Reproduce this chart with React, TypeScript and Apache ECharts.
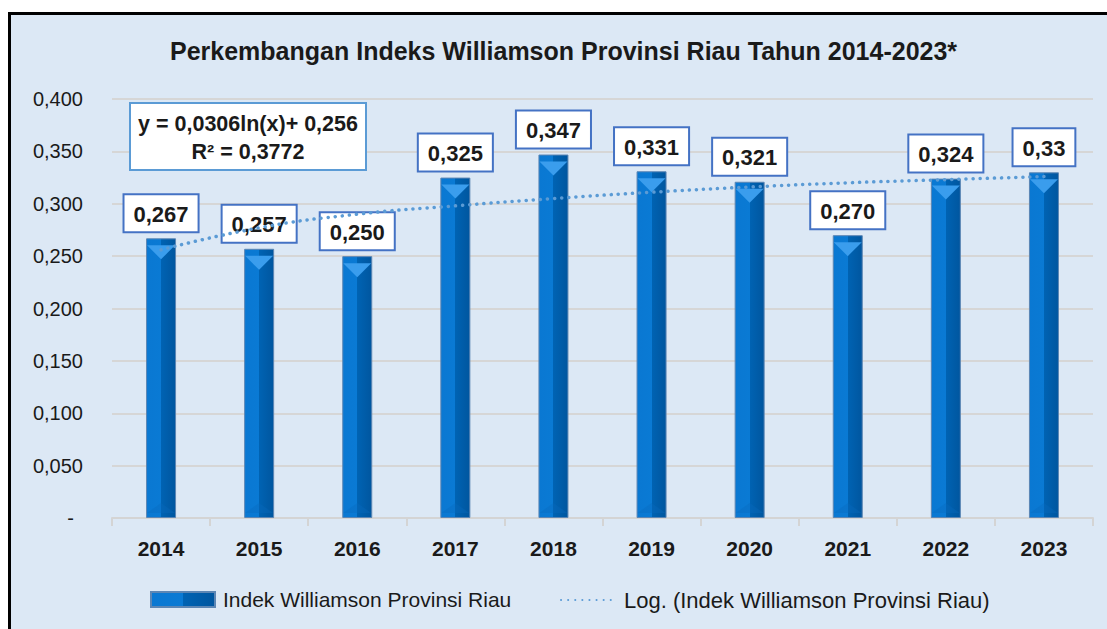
import React, { useEffect, useRef } from "react";
import * as echarts from "echarts";

const years = ["2014", "2015", "2016", "2017", "2018", "2019", "2020", "2021", "2022", "2023"];
const williamson = [0.267, 0.257, 0.25, 0.325, 0.347, 0.331, 0.321, 0.27, 0.324, 0.33];
const valueLabels = ["0,267", "0,257", "0,250", "0,325", "0,347", "0,331", "0,321", "0,270", "0,324", "0,33"];
// logarithmic trend line values
const trend = [0.256, 0.277, 0.29, 0.298, 0.305, 0.311, 0.316, 0.32, 0.323, 0.326];
const yTicks = { min: 0, max: 0.4, interval: 0.05 };
const titleText = "Perkembangan Indeks Williamson Provinsi Riau Tahun 2014-2023*";
const barName = "Indek Williamson Provinsi Riau";
const trendName = "Log. (Indek Williamson Provinsi Riau)";
const eqLine1 = "y = 0,0306ln(x)+ 0,256";
const eqLine2 = "R² = 0,3772";

const FONT = "'Liberation Sans', Arial, sans-serif";

export default function App() {
  const ref = useRef<HTMLDivElement>(null);
  useEffect(() => {
    if (!ref.current) return;
    const chart = echarts.init(ref.current, null, { renderer: "svg" });
    const barGrad = new echarts.graphic.LinearGradient(0, 0, 1, 0, [
      { offset: 0, color: "#0a78d2" },
      { offset: 0.5, color: "#0a7ad4" },
      { offset: 0.5, color: "#0063b3" },
      { offset: 1, color: "#00569f" },
    ]);
    chart.setOption({
      animation: false,
      backgroundColor: "#ffffff",
      title: {
        text: titleText,
        left: 165,
        top: 33,
        textStyle: { fontFamily: FONT, fontWeight: "bold", fontSize: 25, color: "#1a1a1a" },
      },
      graphic: [
        {
          type: "rect",
          z: -10,
          shape: { x: 9.5, y: 13.5, width: 1130, height: 650 },
          style: { fill: "#dce8f5", stroke: "#000000", lineWidth: 3 },
        },
        {
          type: "rect",
          z: 10,
          shape: { x: 130, y: 103, width: 236, height: 67 },
          style: { fill: "#ffffff", stroke: "#5b9bd5", lineWidth: 2 },
        },
        {
          type: "text",
          z: 11,
          x: 248,
          y: 124,
          style: {
            text: eqLine1,
            fontFamily: FONT,
            fontWeight: "bold",
            fontSize: 21.5,
            fill: "#1a1a1a",
            align: "center",
            verticalAlign: "middle",
          },
        },
        {
          type: "text",
          z: 11,
          x: 248,
          y: 152,
          style: {
            text: eqLine2,
            fontFamily: FONT,
            fontWeight: "bold",
            fontSize: 21.5,
            fill: "#1a1a1a",
            align: "center",
            verticalAlign: "middle",
          },
        },
      ],
      legend: [
        {
          data: [{ name: barName, icon: "rect" }],
          left: 150,
          top: 589,
          padding: 0,
          itemWidth: 64,
          itemHeight: 15,
          textStyle: { fontFamily: FONT, fontSize: 21, color: "#1a1a1a", padding: [0, 0, 0, 3] },
        },
        {
          data: [{ name: trendName }],
          left: 560,
          top: 589,
          padding: 0,
          itemWidth: 52,
          itemHeight: 15,
          itemStyle: { opacity: 0 },
          textStyle: { fontFamily: FONT, fontSize: 22, color: "#1a1a1a", padding: [0, 0, 0, 6] },
        },
      ],
      grid: { left: 112, right: 14, top: 99, bottom: 111, containLabel: false },
      xAxis: {
        type: "category",
        data: years,
        boundaryGap: true,
        axisLine: { lineStyle: { color: "#d4d4d4", width: 2 } },
        axisTick: { show: true, length: 8, lineStyle: { color: "#d4d4d4", width: 2 } },
        axisLabel: {
          margin: 20,
          fontFamily: FONT,
          fontWeight: "bold",
          fontSize: 21,
          color: "#1a1a1a",
        },
      },
      yAxis: {
        type: "value",
        min: yTicks.min,
        max: yTicks.max,
        interval: yTicks.interval,
        axisLine: { show: false },
        axisTick: { show: false },
        splitLine: { lineStyle: { color: "#d6d6d6", width: 2 } },
        axisLabel: {
          margin: 29,
          fontFamily: FONT,
          fontSize: 20,
          color: "#1a1a1a",
          formatter: (v: number) =>
            v === 0 ? "{d|-}" : v.toFixed(3).replace(".", ","),
          rich: { d: { fontFamily: FONT, fontSize: 20, color: "#1a1a1a", padding: [0, 9, 0, 0] } },
        },
      },
      series: [
        {
          name: barName,
          type: "bar",
          data: williamson,
          barWidth: 30,
          barGap: "-100%",
          z: 2,
          itemStyle: { color: barGrad, borderColor: "#5c86b4", borderWidth: 1 },
          label: {
            show: true,
            position: "top",
            distance: 7,
            formatter: (p: any) => valueLabels[p.dataIndex],
            fontFamily: FONT,
            fontWeight: "bold",
            fontSize: 22,
            color: "#1a1a1a",
            backgroundColor: "#ffffff",
            borderColor: "#4472c4",
            borderWidth: 2,
            padding: [8, 9, 6, 9],
          },
        },
        {
          name: "top",
          type: "pictorialBar",
          data: williamson,
          barWidth: 30,
          barGap: "-100%",
          symbol: "triangle",
          symbolRotate: 180,
          symbolSize: [28, 14],
          symbolPosition: "end",
          symbolOffset: [0, "50%"],
          z: 3,
          itemStyle: { color: "#3a9ded" },
        },
        {
          name: "bottom",
          type: "pictorialBar",
          data: williamson,
          barWidth: 30,
          barGap: "-100%",
          symbol: "triangle",
          symbolSize: [28, 10],
          symbolPosition: "start",
          symbolOffset: [0, "-50%"],
          z: 3,
          itemStyle: { color: "#0a6bbd", opacity: 0.35 },
        },
        {
          name: trendName,
          type: "line",
          data: trend,
          smooth: true,
          symbol: "none",
          z: 6,
          color: "#5b9bd5",
          lineStyle: { color: "#5b9bd5", width: 3.5, type: [0.1, 7], cap: "round" },
        },
      ],
    });
    return () => chart.dispose();
  }, []);
  return (
    <div
      ref={ref}
      style={{ position: "fixed", left: 0, top: 0, width: "1107px", height: "629px" }}
    />
  );
}
